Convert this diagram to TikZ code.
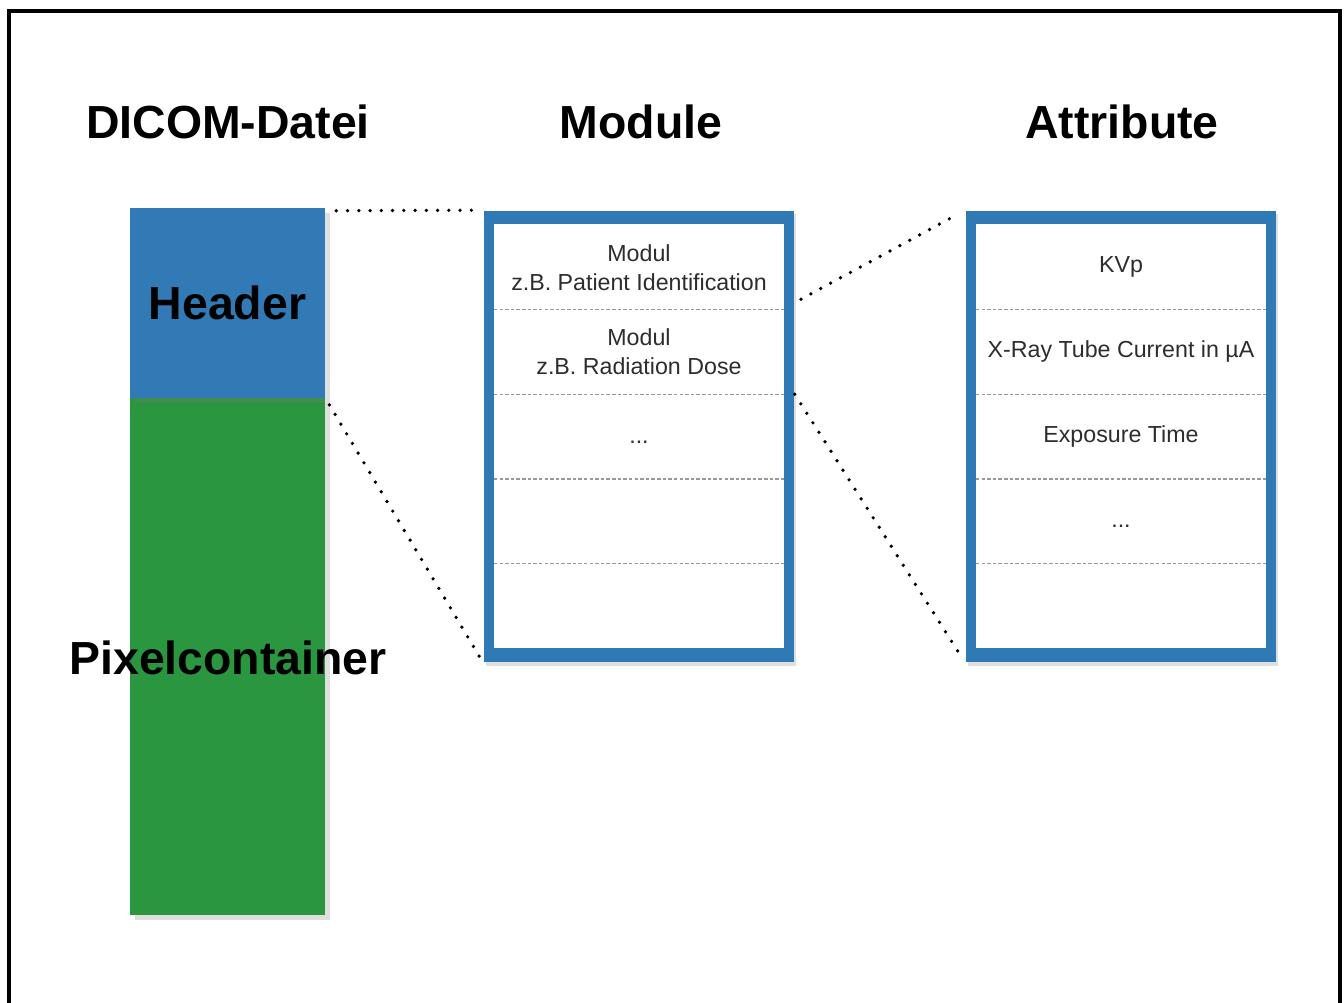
\documentclass[tikz,border=0pt]{standalone}
\usepackage{fontspec}
\setmainfont{Liberation Sans}
\usepackage{tikz}
\usetikzlibrary{shapes,arrows,positioning,shadows}

\definecolor{hdrblue}{RGB}{50,122,181}
\definecolor{pixgreen}{RGB}{42,150,64}
\definecolor{boxblue}{RGB}{47,121,180}
\definecolor{rowtext}{RGB}{45,45,45}

\begin{document}
\begin{tikzpicture}[x=0.01cm,y=-0.01cm]

\useasboundingbox (0,0) rectangle (1344,1003);
\draw[line width=0.9pt] (9,11) rectangle (1340,1030);

\tikzstyle{title}=[font=\fontsize{13.2}{15}\selectfont\bfseries]
\tikzstyle{bar}=[rectangle,inner sep=0pt,minimum width=1.95cm,
  drop shadow={shadow xshift=1.5pt,shadow yshift=-1.5pt,opacity=0.25}]
\tikzstyle{frame}=[rectangle,fill=boxblue,inner sep=0pt,minimum width=3.1cm,minimum height=4.51cm,
  drop shadow={shadow xshift=0.5pt,shadow yshift=-1pt,opacity=0.25}]
\tikzstyle{inner}=[rectangle,fill=white,inner sep=0pt,minimum width=2.9cm,minimum height=4.23cm]
\tikzstyle{row}=[rectangle,inner sep=0pt,outer sep=0pt,minimum width=2.9cm,minimum height=0.846cm,
  align=center,text=rowtext,font=\fontsize{6.6}{8.2}\selectfont]
\tikzstyle{rowdots}=[inner sep=0pt,text=rowtext,font=\fontsize{6.6}{8.2}\selectfont]
\tikzstyle{divider}=[draw=black!40,line width=0.35pt,dash pattern=on 1pt off 0.6pt]
\tikzstyle{zoomline}=[line width=1.05pt,line cap=round,dash pattern=on 0pt off 3.2pt]

% column titles
\node[title] (dicom) at (228,122) {DICOM-Datei};
\node[title] (module) at (641,122) {Module};
\node[title] (attr) at (1122,122) {Attribute};

% the file: header on top of the pixel data
\node[bar,fill=pixgreen,minimum height=5.17cm] (pix) at (227.5,656.5) {};
\node[bar,fill=hdrblue,minimum height=1.9cm,font=\fontsize{13.2}{15}\selectfont\bfseries] (hdr) at (227.5,303) {Header};
\node[title] (pixtext) at (228,658) {Pixelcontainer};

% module list
\node[frame] (modbox) at (639,436.5) {};
\node[inner] (modin) at (639,436) {};
\node[row] (m1) at (639,267.3) {Modul\\z.B. Patient Identification};
\node[row,below=0pt of m1] (m2) {Modul\\z.B. Radiation Dose};
\node[row,below=0pt of m2] (m3) {};
\node[row,below=0pt of m3] (m4) {};
\node[row,below=0pt of m4] (m5) {};
\node[rowdots] (m3dots) at ([yshift=-1.5pt]m3.center) {...};
\draw[divider] (m1.south west) -- (m1.south east);
\draw[divider] (m2.south west) -- (m2.south east);
\draw[divider] (m3.south west) -- (m3.south east);
\draw[divider] (m4.south west) -- (m4.south east);

% attribute list
\node[frame] (attbox) at (1121,436.5) {};
\node[inner] (attin) at (1121,436) {};
\node[row] (a1) at (1121,267.3) {KVp};
\node[row,below=0pt of a1] (a2) {X-Ray Tube Current in µA};
\node[row,below=0pt of a2] (a3) {Exposure Time};
\node[row,below=0pt of a3] (a4) {};
\node[row,below=0pt of a4] (a5) {};
\node[rowdots] (a4dots) at ([yshift=-1.5pt]a4.center) {...};
\draw[divider] (a1.south west) -- (a1.south east);
\draw[divider] (a2.south west) -- (a2.south east);
\draw[divider] (a3.south west) -- (a3.south east);
\draw[divider] (a4.south west) -- (a4.south east);

% zoom lines
\draw[zoomline,shorten <=3pt,shorten >=3pt] ([yshift=-1pt]hdr.north east) -- (modbox.north west);
\draw[zoomline,shorten <=2pt,shorten >=2pt] (hdr.south east) -- (modbox.south west);
\draw[zoomline,shorten <=2pt,shorten >=2pt] ([yshift=2pt]modbox.east |- m1.south) -- (attbox.north west);
\draw[zoomline,shorten >=2pt] (modbox.east |- m2.south) -- (attbox.south west);

\end{tikzpicture}
\end{document}
